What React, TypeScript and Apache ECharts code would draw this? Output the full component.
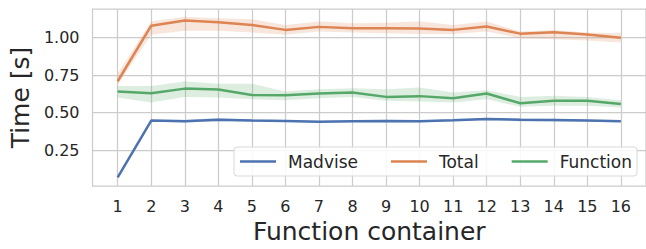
import React, { useEffect, useRef } from 'react';
import * as echarts from 'echarts';

const containers = [1, 2, 3, 4, 5, 6, 7, 8, 9, 10, 11, 12, 13, 14, 15, 16];
const yTicks = [0.25, 0.5, 0.75, 1.0];

const madviseMean = [0.069, 0.447, 0.442, 0.453, 0.447, 0.444, 0.440, 0.442, 0.444, 0.442, 0.449, 0.457, 0.453, 0.451, 0.447, 0.442];
const madviseHi = [0.075, 0.453, 0.452, 0.465, 0.455, 0.451, 0.446, 0.449, 0.452, 0.449, 0.456, 0.465, 0.461, 0.459, 0.453, 0.448];
const madviseLo = [0.063, 0.441, 0.434, 0.442, 0.440, 0.437, 0.434, 0.436, 0.436, 0.435, 0.442, 0.450, 0.441, 0.440, 0.440, 0.436];

const totalMean = [0.709, 1.079, 1.113, 1.101, 1.084, 1.051, 1.071, 1.062, 1.062, 1.060, 1.051, 1.073, 1.026, 1.035, 1.020, 0.998];
const totalHi = [0.760, 1.106, 1.139, 1.128, 1.121, 1.084, 1.106, 1.095, 1.099, 1.106, 1.084, 1.106, 1.040, 1.051, 1.033, 1.029];
const totalLo = [0.685, 1.018, 1.046, 1.046, 1.033, 1.018, 1.040, 1.033, 1.029, 1.024, 1.024, 1.040, 0.996, 0.989, 0.980, 0.967];

const functionMean = [0.640, 0.629, 0.660, 0.654, 0.618, 0.616, 0.627, 0.634, 0.605, 0.610, 0.596, 0.627, 0.563, 0.579, 0.579, 0.557];
const functionHi = [0.678, 0.678, 0.707, 0.693, 0.693, 0.640, 0.656, 0.662, 0.656, 0.667, 0.634, 0.649, 0.605, 0.612, 0.605, 0.583];
const functionLo = [0.601, 0.568, 0.605, 0.601, 0.590, 0.583, 0.596, 0.605, 0.579, 0.574, 0.568, 0.590, 0.539, 0.546, 0.546, 0.535];

const seriesNames = ['Madvise', 'Total', 'Function'];
const colors = ['#4C72B0', '#DD8452', '#55A868'];

const FONT = 'DejaVu Sans';
const TEXT = '#262626';
const GRIDC = '#cccccc';

function band(name: string, color: string, lo: number[], hi: number[]) {
  return {
    type: 'custom',
    name: name + ' band',
    silent: true,
    z: 1,
    data: containers.map((x, i) => [x, lo[i], hi[i]]),
    encode: { x: 0, y: [1, 2] },
    renderItem: (params: any, api: any) => {
      if (params.dataIndex !== 0) return null;
      const top = containers.map((x, i) => api.coord([x, hi[i]]));
      const bot = containers.map((x, i) => api.coord([x, lo[i]])).reverse();
      return {
        type: 'polygon',
        shape: { points: [...top, ...bot] },
        style: { fill: color, opacity: 0.2 },
      };
    },
  };
}

function line(name: string, color: string, vals: number[]) {
  return {
    type: 'line',
    name,
    z: 3,
    symbol: 'none',
    data: containers.map((x, i) => [x, vals[i]]),
    lineStyle: { color, width: 2.5 },
    itemStyle: { color },
  };
}

export default function App() {
  const ref = useRef<HTMLDivElement>(null);
  useEffect(() => {
    document.body.style.margin = '0';
    const chart = echarts.init(ref.current!, null, { renderer: 'svg' });
    chart.setOption({
      animation: false,
      backgroundColor: '#ffffff',
      textStyle: { fontFamily: FONT },
      grid: {
        left: 92,
        top: 9,
        right: -4,
        bottom: 62,
        show: true,
        borderColor: GRIDC,
        borderWidth: 1.25,
        backgroundColor: '#ffffff',
      },
      legend: {
        data: seriesNames,
        icon: 'rect',
        left: 234,
        top: 147,
        padding: [6, 5, 6, 6],
        itemGap: 33,
        itemWidth: 36,
        itemHeight: 2.5,
        backgroundColor: 'rgba(255,255,255,0.85)',
        borderColor: '#d9d9d9',
        borderWidth: 1,
        borderRadius: 3,
        textStyle: { fontFamily: FONT, fontSize: 17, color: TEXT, padding: [0, 0, 0, 7] },
      },
      xAxis: {
        type: 'value',
        min: 0.25,
        max: 16.75,
        name: 'Function container',
        nameLocation: 'middle',
        nameGap: 33,
        nameTextStyle: { fontFamily: FONT, fontSize: 25, color: TEXT },
        axisLine: { show: false },
        axisTick: { show: false, customValues: containers },
        axisLabel: {
          customValues: containers,
          fontFamily: FONT,
          fontSize: 16,
          color: TEXT,
          margin: 12,
        },
        splitLine: { show: true, lineStyle: { color: GRIDC, width: 1.25 } },
      },
      yAxis: {
        type: 'value',
        min: 0.0117,
        max: 1.19,
        name: 'Time [s]',
        nameLocation: 'middle',
        nameGap: 56,
        nameTextStyle: { fontFamily: FONT, fontSize: 25, color: TEXT },
        axisLine: { show: false },
        axisTick: { show: false, customValues: yTicks },
        axisLabel: {
          customValues: yTicks,
          fontFamily: FONT,
          fontSize: 16,
          color: TEXT,
          margin: 13,
          formatter: (v: number) => v.toFixed(2),
        },
        splitLine: { show: true, lineStyle: { color: GRIDC, width: 1.25 } },
      },
      series: [
        band(seriesNames[0], colors[0], madviseLo, madviseHi),
        band(seriesNames[1], colors[1], totalLo, totalHi),
        band(seriesNames[2], colors[2], functionLo, functionHi),
        line(seriesNames[0], colors[0], madviseMean),
        line(seriesNames[1], colors[1], totalMean),
        line(seriesNames[2], colors[2], functionMean),
      ],
    });
    return () => chart.dispose();
  }, []);
  return <div ref={ref} style={{ width: 646, height: 249 }} />;
}
